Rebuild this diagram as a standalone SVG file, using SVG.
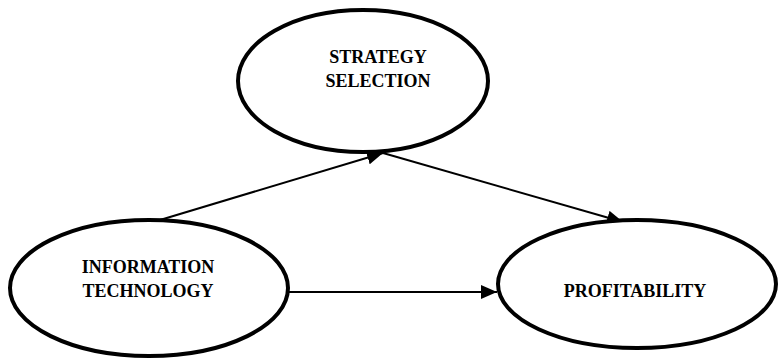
<svg xmlns="http://www.w3.org/2000/svg" width="779" height="358" viewBox="0 0 779 358">
<style>
.node ellipse{fill:#fff;stroke:#000;stroke-width:4}
.node text{font-family:"Liberation Serif","Times New Roman",serif;font-weight:bold;font-size:18px;fill:#000;text-anchor:middle}
.edge{stroke:#000;stroke-width:2;fill:none;marker-end:url(#arr)}
</style>
<defs>
<marker id="arr" markerUnits="userSpaceOnUse" markerWidth="18" markerHeight="14" refX="16" refY="7" orient="auto">
<path d="M0,0 L16,7 L0,14 Z" fill="#000"/>
</marker>
</defs>
<g id="connectors">
<line class="edge" x1="160" y1="220" x2="383" y2="153"/>
<line class="edge" x1="383" y1="153" x2="623" y2="222"/>
<line class="edge" x1="288" y1="292" x2="497" y2="292"/>
</g>
<g id="strategy" class="node">
<ellipse cx="363" cy="81" rx="125" ry="71"/>
<text x="378" y="63">STRATEGY</text>
<text x="378" y="87">SELECTION</text>
</g>
<g id="it" class="node">
<ellipse cx="149" cy="288" rx="139" ry="68"/>
<text x="148" y="273">INFORMATION</text>
<text x="148" y="297">TECHNOLOGY</text>
</g>
<g id="profit" class="node">
<ellipse cx="637" cy="284" rx="139" ry="64"/>
<text x="635" y="297">PROFITABILITY</text>
</g>
</svg>
